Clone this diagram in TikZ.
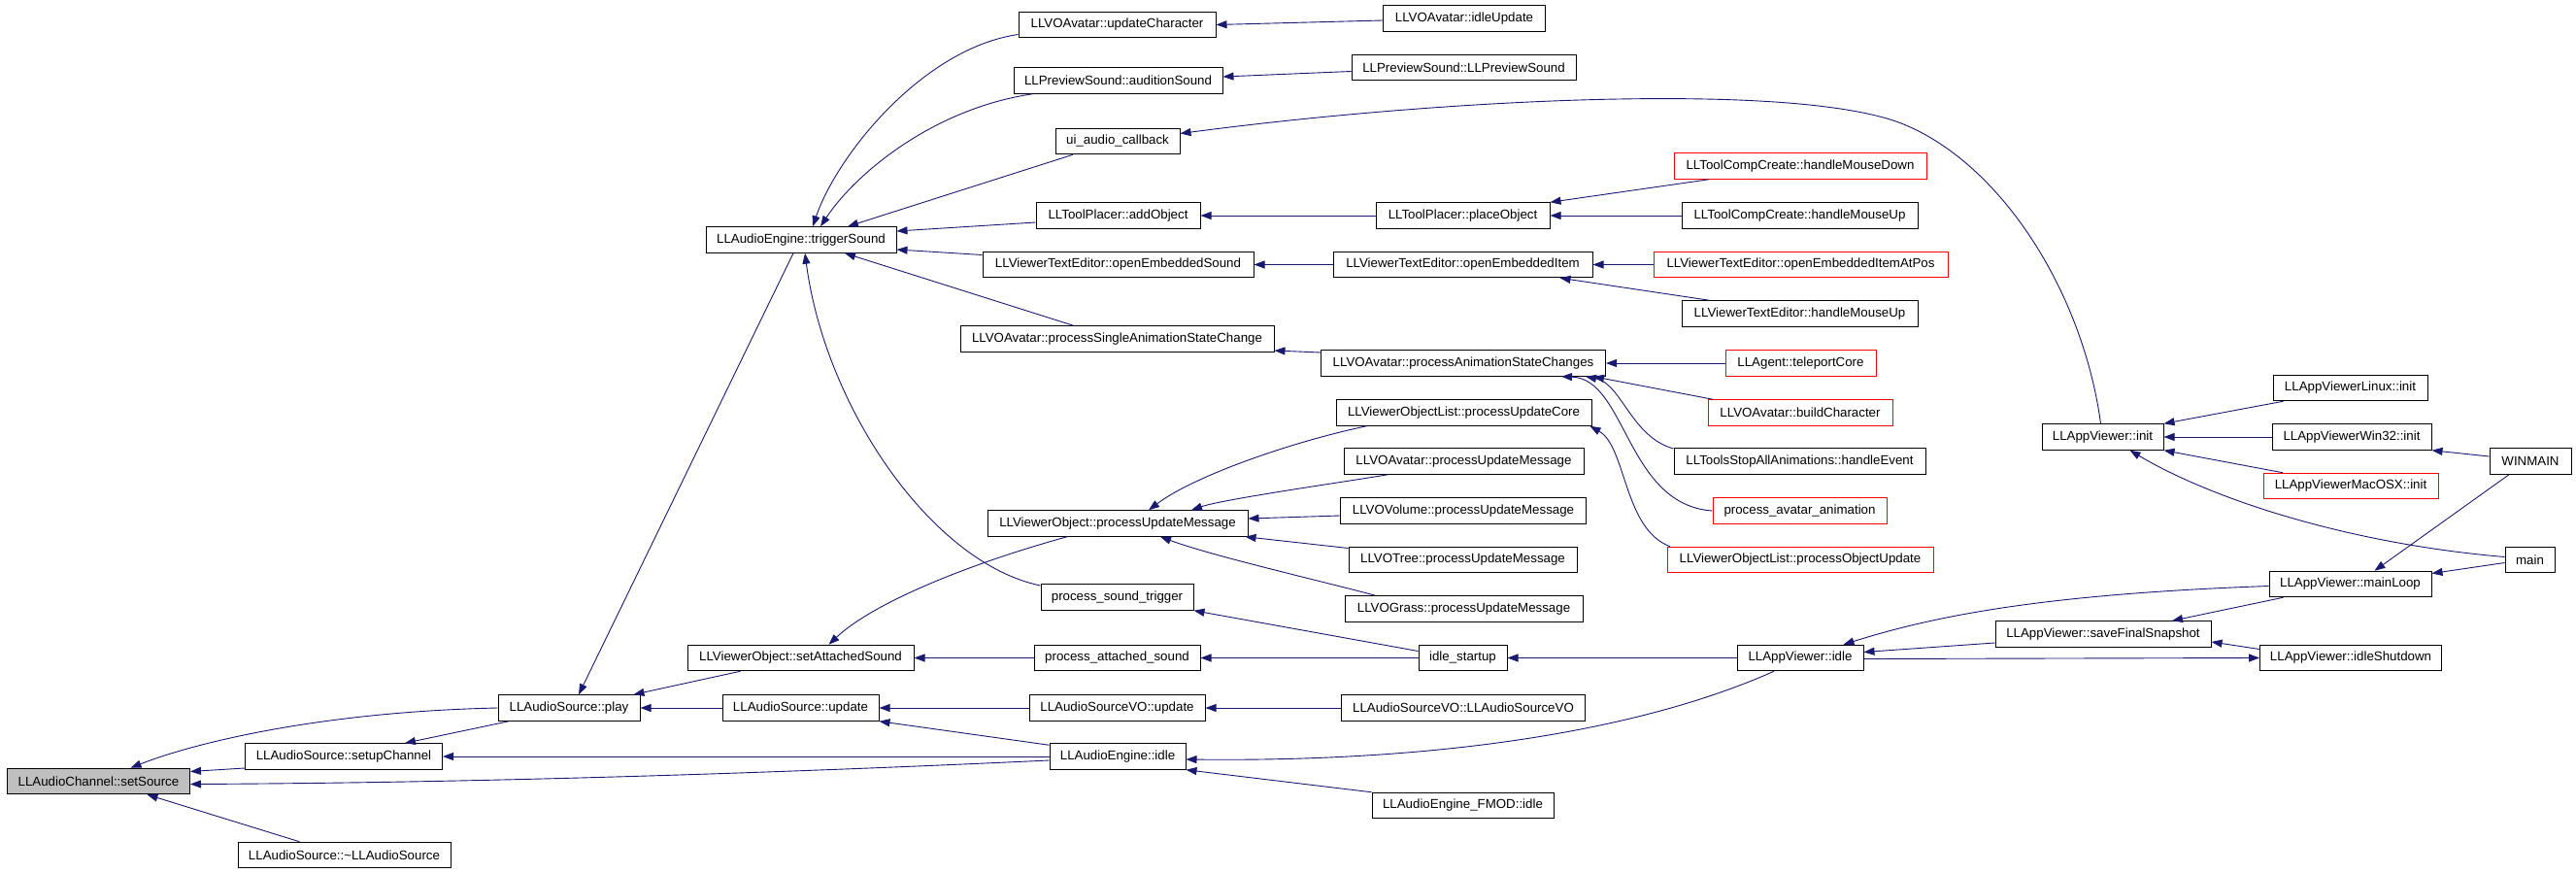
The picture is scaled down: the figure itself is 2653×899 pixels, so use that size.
\documentclass[tikz,border=0pt]{standalone}
\usepackage{fontspec}
\setmainfont{Liberation Sans}
\usetikzlibrary{arrows.meta}
\definecolor{edgeblue}{HTML}{191970}
\definecolor{boxgray}{HTML}{BFBFBF}
\newcommand{\nodefont}{\fontsize{13.3}{16}\selectfont}
\begin{document}
\begin{tikzpicture}[x=1pt,y=-1pt,
  nd/.style={draw=black, line width=1pt, minimum height=26.5pt, inner sep=0pt, font=\nodefont, fill=white},
  rd/.style={nd, draw=red},
  edge/.style={draw=edgeblue, line width=0.9pt, {Triangle[length=11pt,width=8pt]}-}]
\fill[white] (0,0) rectangle (2653,899);
\useasboundingbox (0,0) rectangle (2653,899);
% column 0-2
\node[nd, fill=boxgray, minimum width=188pt] (ss) at (101.5,804.5) {LLAudioChannel::setSource};
\node[nd, minimum width=203pt] (setup) at (354,779) {LLAudioSource::setupChannel};
\node[nd, minimum width=219pt] (dtor) at (354.5,880.5) {LLAudioSource::\textasciitilde LLAudioSource};
\node[nd, minimum width=146pt] (play) at (586,729) {LLAudioSource::play};
% column 3
\node[nd, minimum width=196pt] (trig) at (825,247) {LLAudioEngine::triggerSound};
\node[nd, minimum width=233pt] (sas) at (824.5,677.5) {LLViewerObject::setAttachedSound};
\node[nd, minimum width=161pt] (upd) at (824.5,729) {LLAudioSource::update};
% column 4
\node[nd, minimum width=203pt] (uc) at (1150.5,25.5) {LLVOAvatar::updateCharacter};
\node[nd, minimum width=215pt] (aus) at (1151.5,83) {LLPreviewSound::auditionSound};
\node[nd, minimum width=128pt] (uiac) at (1151,145.5) {ui\_audio\_callback};
\node[nd, minimum width=169pt] (addo) at (1151.5,222) {LLToolPlacer::addObject};
\node[nd, minimum width=279pt] (oes) at (1151.5,272.5) {LLViewerTextEditor::openEmbeddedSound};
\node[nd, minimum width=323pt] (psas) at (1150.5,349) {LLVOAvatar::processSingleAnimationStateChange};
\node[nd, minimum width=268pt] (vopum) at (1151,539) {LLViewerObject::processUpdateMessage};
\node[nd, minimum width=157pt] (pst) at (1150.5,615) {process\_sound\_trigger};
\node[nd, minimum width=171pt] (pas) at (1150.5,677.5) {process\_attached\_sound};
\node[nd, minimum width=181pt] (svoupd) at (1150.5,729) {LLAudioSourceVO::update};
\node[nd, minimum width=140pt] (aeidle) at (1151,779) {LLAudioEngine::idle};
% column 5
\node[nd, minimum width=167pt] (idleup) at (1508,19) {LLVOAvatar::idleUpdate};
\node[nd, minimum width=231pt] (lps) at (1507.5,69.5) {LLPreviewSound::LLPreviewSound};
\node[nd, minimum width=179pt] (place) at (1506.5,222) {LLToolPlacer::placeObject};
\node[nd, minimum width=267pt] (oei) at (1506.5,272.5) {LLViewerTextEditor::openEmbeddedItem};
\node[nd, minimum width=293pt] (pasc) at (1507,374) {LLVOAvatar::processAnimationStateChanges};
\node[nd, minimum width=263pt] (puc) at (1507.5,425) {LLViewerObjectList::processUpdateCore};
\node[nd, minimum width=247pt] (avpum) at (1507.5,475) {LLVOAvatar::processUpdateMessage};
\node[nd, minimum width=253pt] (volpum) at (1507,526) {LLVOVolume::processUpdateMessage};
\node[nd, minimum width=235pt] (treepum) at (1506.5,576.5) {LLVOTree::processUpdateMessage};
\node[nd, minimum width=245pt] (grasspum) at (1507.5,627) {LLVOGrass::processUpdateMessage};
\node[nd, minimum width=91pt] (istart) at (1506.5,677.5) {idle\_startup};
\node[nd, minimum width=251pt] (svoctor) at (1507,729) {LLAudioSourceVO::LLAudioSourceVO};
\node[nd, minimum width=187pt] (fmod) at (1506.5,829.5) {LLAudioEngine\_FMOD::idle};
% column 6
\node[rd, minimum width=260pt] (tcmd) at (1854,171) {LLToolCompCreate::handleMouseDown};
\node[nd, minimum width=243pt] (tcmu) at (1853.5,222) {LLToolCompCreate::handleMouseUp};
\node[rd, minimum width=303pt] (oeiap) at (1854.5,272.5) {LLViewerTextEditor::openEmbeddedItemAtPos};
\node[nd, minimum width=243pt] (vtemu) at (1853.5,323) {LLViewerTextEditor::handleMouseUp};
\node[rd, minimum width=155pt] (tele) at (1854.5,374) {LLAgent::teleportCore};
\node[rd, minimum width=190pt] (build) at (1854,425) {LLVOAvatar::buildCharacter};
\node[nd, minimum width=259pt] (tsaa) at (1853.5,475) {LLToolsStopAllAnimations::handleEvent};
\node[rd, minimum width=179pt] (paa) at (1853.5,526) {process\_avatar\_animation};
\node[rd, minimum width=274pt] (pou) at (1854,576.5) {LLViewerObjectList::processObjectUpdate};
\node[nd, minimum width=130pt] (avidle) at (1854,677.5) {LLAppViewer::idle};
% column 7
\node[nd, minimum width=125pt] (avinit) at (2165.5,450) {LLAppViewer::init};
\node[nd, minimum width=222pt] (sfs) at (2166,653) {LLAppViewer::saveFinalSnapshot};
% column 8
\node[nd, minimum width=159pt] (linux) at (2420.5,399.5) {LLAppViewerLinux::init};
\node[nd, minimum width=164pt] (win32) at (2422,450) {LLAppViewerWin32::init};
\node[rd, minimum width=180pt] (mac) at (2421,500.5) {LLAppViewerMacOSX::init};
\node[nd, minimum width=167pt] (mainloop) at (2420.5,601.5) {LLAppViewer::mainLoop};
\node[nd, minimum width=187pt] (idlesd) at (2421,677.5) {LLAppViewer::idleShutdown};
% column 9
\node[nd, minimum width=84pt] (winmain) at (2606,475) {WINMAIN};
\node[nd, minimum width=51pt] (main) at (2605.5,576.5) {main};
% edges
\draw[edge] ([xshift=33pt]ss.north) .. controls (200,765) and (330,733) .. (play.west);
\draw[edge] ([yshift=10pt]ss.east) -- ([yshift=-12pt]setup.west);
\draw[edge] ([yshift=-3pt]ss.east) .. controls (500,806) and (800,796) .. ([yshift=-4pt]aeidle.west);
\draw[edge] ([xshift=50pt]ss.south) -- ([xshift=-46pt]dtor.north);
\draw[edge] ([xshift=63pt]setup.north) -- ([xshift=-62pt]play.south);
\draw[edge] (setup.east) -- (aeidle.west);
\draw[edge] ([xshift=10pt]play.north) -- ([xshift=-8pt]trig.south);
\draw[edge] ([xshift=-7pt]play.north east) -- ([xshift=-62pt]sas.south);
\draw[edge] (play.east) -- (upd.west);
\draw[edge] ([xshift=12pt]trig.north) .. controls (862,160) and (950,50) .. ([yshift=-10pt]uc.west);
\draw[edge] ([xshift=20pt]trig.north) .. controls (880,180) and (960,112) .. ([xshift=-88pt]aus.south);
\draw[edge] ([xshift=48pt]trig.north) -- ([xshift=-46pt]uiac.south);
\draw[edge] ([yshift=9pt]trig.east) -- ([yshift=-7pt]addo.west);
\draw[edge] ([yshift=-10pt]trig.east) -- ([yshift=10pt]oes.west);
\draw[edge] ([xshift=45pt]trig.south) -- ([xshift=-45pt]psas.north);
\draw[edge] ([xshift=4pt]trig.south) .. controls (850,420) and (960,580) .. ([yshift=12pt]pst.west);
\draw[edge] (uc.east) -- ([yshift=-2pt]idleup.west);
\draw[edge] ([yshift=4pt]aus.east) -- ([yshift=-4pt]lps.west);
\draw[edge] ([yshift=8pt]uiac.east) .. controls (1500,100) and (1850,85) .. (1958,127) .. controls (2060,167) and (2145,300) .. ([xshift=-2pt]avinit.north);
\draw[edge] (addo.east) -- (place.west);
\draw[edge] (place.north east) -- ([xshift=-94pt]tcmd.south);
\draw[edge] (place.east) -- (tcmu.west);
\draw[edge] (oes.east) -- (oei.west);
\draw[edge] (oei.east) -- (oeiap.west);
\draw[edge] ([xshift=-34pt]oei.south east) -- ([xshift=-93pt]vtemu.north);
\draw[edge] ([yshift=-12pt]psas.east) -- ([yshift=11pt]pasc.west);
\draw[edge] (pasc.east) -- (tele.west);
\draw[edge] ([xshift=-13pt]pasc.south east) -- ([xshift=-90pt]build.north);
\draw[edge] ([xshift=-21pt]pasc.south east) .. controls (1670,395) and (1680,450) .. ([yshift=13pt]tsaa.west);
\draw[edge] ([xshift=-46pt]pasc.south east) .. controls (1675,390) and (1675,520) .. (paa.west);
\draw[edge] ([xshift=-2pt]puc.south east) .. controls (1675,460) and (1672,545) .. ([xshift=-134pt]pou.north);
\draw[edge] ([xshift=32pt]vopum.north) .. controls (1230,490) and (1330,455) .. ([xshift=-100pt]puc.south);
\draw[edge] ([xshift=76pt]vopum.north) .. controls (1260,514) and (1380,497) .. ([xshift=-78pt]avpum.south);
\draw[edge] ([yshift=5pt]vopum.east) -- ([yshift=-5pt]volpum.west);
\draw[edge] ([xshift=-3pt]vopum.south east) -- ([yshift=12pt]treepum.west);
\draw[edge] ([xshift=44pt]vopum.south) .. controls (1250,573) and (1360,598) .. ([xshift=-91pt]grasspum.north);
\draw[edge] ([xshift=29pt]sas.north) .. controls (900,620) and (1000,580) .. ([xshift=-52pt]vopum.south);
\draw[edge] (pst.south east) -- ([yshift=7pt]istart.west);
\draw[edge] (sas.east) -- (pas.west);
\draw[edge] (pas.east) -- (istart.west);
\draw[edge] (istart.east) -- (avidle.west);
\draw[edge] (upd.east) -- (svoupd.west);
\draw[edge] (svoupd.east) -- (svoctor.west);
\draw[edge] (upd.south east) -- ([yshift=-2pt]aeidle.north west);
\draw[edge] ([yshift=-3pt]aeidle.east) .. controls (1500,785) and (1700,748) .. ([xshift=-27pt]avidle.south);
\draw[edge] (aeidle.south east) -- (fmod.north west);
\draw[edge] ([xshift=-21pt]avidle.north east) .. controls (1990,635) and (2100,612) .. ([yshift=-2pt]mainloop.west);
\draw[edge] ([yshift=6pt]avidle.east) -- ([yshift=-9pt]sfs.west);
\draw[edge] (idlesd.west) -- ([yshift=-1pt]avidle.east);
\draw[edge] ([yshift=-8pt]sfs.east) -- ([yshift=9pt]idlesd.west);
\draw[edge] ([xshift=71pt]sfs.north) -- ([xshift=-69pt]mainloop.south);
\draw[edge] ([yshift=11pt]mainloop.east) -- ([yshift=-3pt]main.west);
\draw[edge] ([xshift=25pt]mainloop.north) -- ([xshift=-22pt]winmain.south);
\draw[edge] ([xshift=28pt]avinit.south) .. controls (2280,515) and (2420,560) .. ([yshift=3pt]main.west);
\draw[edge] (avinit.north east) -- ([xshift=-69pt]linux.south);
\draw[edge] (avinit.east) -- (win32.west);
\draw[edge] (avinit.south east) -- ([xshift=-70pt]mac.north);
\draw[edge] (win32.south east) -- ([yshift=5pt]winmain.west);
\end{tikzpicture}
\end{document}
